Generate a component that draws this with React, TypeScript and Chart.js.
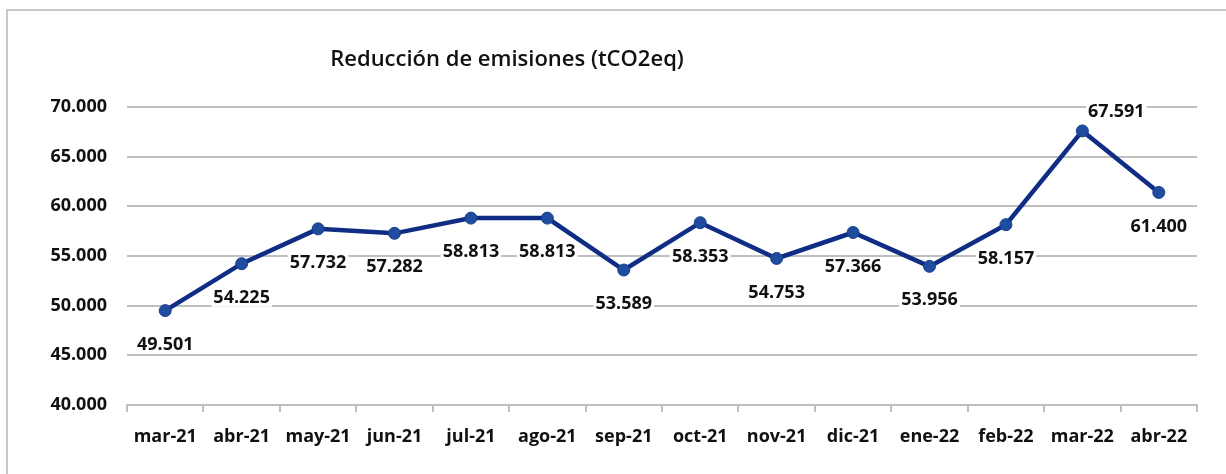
import React, { useEffect, useRef } from "react";
import { Chart, registerables } from "chart.js";

Chart.register(...registerables);

const categories = [
  "mar-21", "abr-21", "may-21", "jun-21", "jul-21", "ago-21", "sep-21",
  "oct-21", "nov-21", "dic-21", "ene-22", "feb-22", "mar-22", "abr-22",
];
const emissionReduction = [
  49501, 54225, 57732, 57282, 58813, 58813, 53589,
  58353, 54753, 57366, 53956, 58157, 67591, 61400,
];
const chartTitle = "Reducción de emisiones (tCO2eq)";
const yMin = 40000;
const yMax = 70000;
const yStep = 5000;

const FONT = "'Open Sans', 'Noto Sans', sans-serif";

function fmtTick(v: number): string {
  return String(Math.round(v)).replace(/\B(?=(\d{3})+(?!\d))/g, ".");
}

const framePlugin = {
  id: "frame",
  beforeDraw(chart: any) {
    const ctx = chart.ctx;
    ctx.save();
    ctx.fillStyle = "#ffffff";
    ctx.fillRect(0, 0, chart.width, chart.height);
    ctx.strokeStyle = "#C8C8C8";
    ctx.lineWidth = 2;
    ctx.beginPath();
    ctx.moveTo(7, chart.height + 2);
    ctx.lineTo(7, 10);
    ctx.lineTo(chart.width + 2, 10);
    ctx.stroke();
    ctx.restore();
  },
};

const titlePlugin = {
  id: "customTitle",
  afterDraw(chart: any) {
    const ctx = chart.ctx;
    ctx.save();
    ctx.font = `600 22px ${FONT}`;
    ctx.fillStyle = "#111111";
    ctx.textAlign = "center";
    ctx.textBaseline = "middle";
    ctx.fillText(chartTitle, 507, 60);
    ctx.restore();
  },
};

const dataLabelPlugin = {
  id: "valueLabels",
  afterDatasetsDraw(chart: any) {
    const ctx = chart.ctx;
    const meta = chart.getDatasetMeta(0);
    const data = chart.data.datasets[0].data as number[];
    const peak = Math.max(...data);
    ctx.save();
    ctx.font = `700 18px ${FONT}`;
    ctx.textAlign = "center";
    ctx.textBaseline = "middle";
    meta.data.forEach((pt: any, i: number) => {
      const isPeak = data[i] === peak;
      const dx = isPeak ? 34 : 0;
      const dy = isPeak ? -19 : 34;
      const text = fmtTick(data[i]);
      const w = ctx.measureText(text).width;
      ctx.fillStyle = "#ffffff";
      ctx.fillRect(pt.x + dx - w / 2 - 2, pt.y + dy - 9, w + 4, 18);
      ctx.fillStyle = "#111111";
      ctx.fillText(text, pt.x + dx, pt.y + dy);
    });
    ctx.restore();
  },
};

export default function App() {
  const canvasRef = useRef<HTMLCanvasElement | null>(null);

  useEffect(() => {
    document.body.style.margin = "0";
    const canvas = canvasRef.current;
    if (!canvas) return;
    const chart = new Chart(canvas, {
      type: "line",
      data: {
        labels: categories,
        datasets: [
          {
            data: emissionReduction,
            borderColor: "#0F2D85",
            borderWidth: 4.5,
            pointRadius: 6,
            pointBackgroundColor: "#1F4C9E",
            pointBorderColor: "#173F8C",
            pointBorderWidth: 1,
            tension: 0,
          },
        ],
      },
      options: {
        responsive: false,
        animation: false,
        events: [],
        layout: { padding: { left: 0, right: 29, top: 107, bottom: 0 } },
        plugins: {
          legend: { display: false },
          title: { display: false },
          tooltip: { enabled: false },
        },
        scales: {
          x: {
            type: "category",
            offset: true,
            grid: {
              offset: true,
              drawOnChartArea: false,
              drawTicks: true,
              tickLength: 7,
              color: "#BFBFBF",
              lineWidth: 2,
            },
            border: { display: true, color: "#BFBFBF", width: 2 },
            ticks: {
              padding: 14,
              color: "#111111",
              font: { family: FONT, size: 18, weight: "700" },
              maxRotation: 0,
              autoSkip: false,
            },
            afterFit: (s: any) => {
              s.height = 69;
            },
          },
          y: {
            min: yMin,
            max: yMax,
            ticks: {
              stepSize: yStep,
              padding: 20,
              color: "#111111",
              font: { family: FONT, size: 18, weight: "700" },
              callback: (v: any) => fmtTick(Number(v)),
            },
            grid: {
              color: "#BFBFBF",
              lineWidth: 2,
              drawTicks: false,
            },
            border: { display: false },
            afterFit: (s: any) => {
              s.width = 127;
            },
          },
        },
      },
      plugins: [framePlugin, titlePlugin, dataLabelPlugin],
    });
    return () => chart.destroy();
  }, []);

  return (
    <div style={{ width: 1226, height: 474 }}>
      <canvas ref={canvasRef} width={1226} height={474} style={{ display: "block" }} />
    </div>
  );
}
